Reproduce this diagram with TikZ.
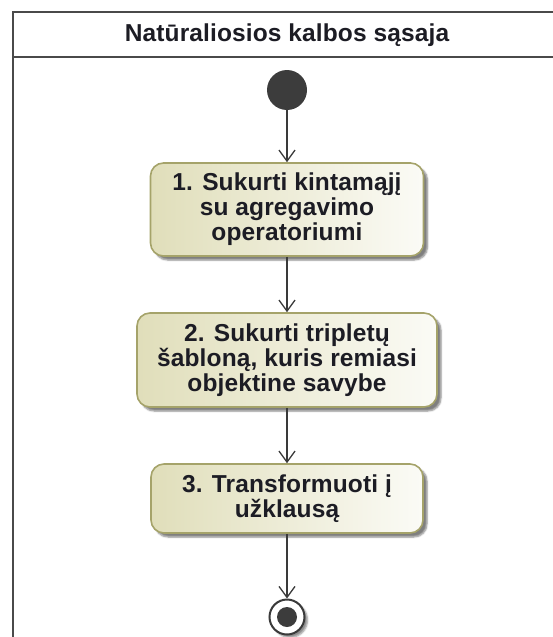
\documentclass[tikz,border=0pt]{standalone}
\usepackage{fontspec}
\newfontfamily\dfont{Liberation Sans}[LetterSpace=0.5]
\usetikzlibrary{arrows.meta,shadows.blur}
\definecolor{frameline}{HTML}{4A4A4A}
\definecolor{boxleft}{HTML}{E0DEBA}
\definecolor{boxright}{HTML}{FBFBF6}
\definecolor{boxedge}{HTML}{A5A36A}
\definecolor{ink}{HTML}{1C1C24}
\definecolor{flow}{HTML}{3A3A3A}
\definecolor{dot}{HTML}{3C3C3C}
\begin{document}
\begin{tikzpicture}[x=1pt,y=-1pt,
  lbl/.style={font=\dfont\bfseries\fontsize{24.5}{25}\selectfont, text=ink, align=center},
  action/.style={lbl, draw=boxedge, line width=1.6pt, rounded corners=13pt,
    left color=boxleft, right color=boxright, inner sep=0pt,
    blur shadow={shadow xshift=4pt, shadow yshift=-4pt, shadow blur steps=5, shadow opacity=50}},
  flowline/.style={draw=flow, line width=1.3pt,
    -{Straight Barb[length=11pt,width=16pt,line width=1.3pt]}},
]
\useasboundingbox (0,0) rectangle (552,637);

% activity frame with its name compartment
\draw[frameline, line width=2.8pt] (575,12) -- (13,12) -- (13,660);
\draw[frameline, line width=2.8pt] (13,57) -- (575,57);
\node[lbl] (title) at (287,35) {Natūraliosios kalbos sąsaja};

% initial and final nodes
\node[circle, fill=dot, minimum size=40pt, inner sep=0pt] (start) at (287,90) {};
\node[circle, draw=flow, line width=2pt, fill=white, minimum size=35pt, inner sep=0pt,
  blur shadow={shadow xshift=3pt, shadow yshift=-3pt, shadow blur steps=4, shadow opacity=45}] (end) at (287,617) {};
\node[circle, fill=dot, minimum size=20pt, inner sep=0pt] (endin) at (end) {};

% actions
\node[action, minimum width=273pt, minimum height=93pt] (a1) at (287,209.5)
  {1. Sukurti kintamąjį\\su agregavimo\\operatoriumi};
\node[action, minimum width=300pt, minimum height=94pt] (a2) at (287,360)
  {2. Sukurti tripletų\\šabloną, kuris remiasi\\objektine savybe};
\node[action, minimum width=272pt, minimum height=69pt] (a3) at (287,498.5)
  {3. Transformuoti į\\užklausą};

% control flows
\draw[flowline] (start) -- (a1);
\draw[flowline] (a1) -- (a2);
\draw[flowline] (a2) -- (a3);
\draw[flowline] (a3) -- (end);
\end{tikzpicture}
\end{document}
